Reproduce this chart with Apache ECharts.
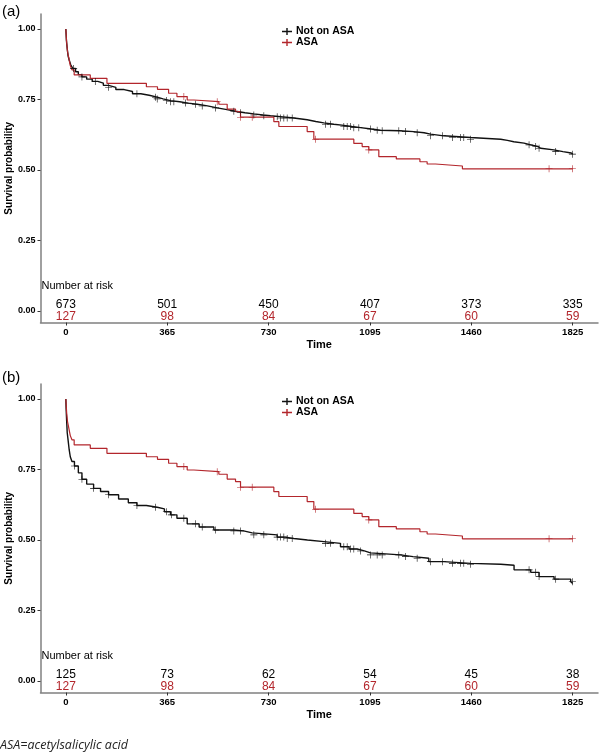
<!DOCTYPE html>
<html><head><meta charset="utf-8">
<script src="https://cdn.jsdelivr.net/npm/echarts@6/dist/echarts.min.js"></script>
<style>html,body{margin:0;padding:0;background:#fff}#c{width:600px;height:756px}</style>
</head><body><div id="c"></div>
<script>
// ---- data ----
const timeTicks = [0, 365, 730, 1095, 1460, 1825];
const survTicks = [0, 0.25, 0.5, 0.75, 1];
const groupNames = ['Not on ASA', 'ASA'];

// Panel (a) Not on ASA
const timeNotA = [0,2,5,8,12,18,25,35,45,58,75,95,115,135,154,180,210,240,270,300,329,350,377,410,440,473,510,545,580,611,645,677,710,737,773,821,869,900,929,965,1001,1030,1061,1100,1133,1200,1253,1290,1313,1361,1457,1566,1590,1613,1650,1674,1700,1710,1757,1790,1820,1825];
const survNotA = [1.000,0.960,0.930,0.905,0.890,0.872,0.860,0.848,0.838,0.830,0.822,0.814,0.808,0.800,0.793,0.785,0.778,0.770,0.765,0.758,0.752,0.746,0.742,0.737,0.733,0.727,0.720,0.714,0.708,0.703,0.699,0.695,0.692,0.689,0.684,0.678,0.672,0.667,0.662,0.658,0.654,0.650,0.645,0.641,0.639,0.636,0.632,0.627,0.621,0.615,0.609,0.605,0.600,0.595,0.589,0.583,0.577,0.571,0.565,0.560,0.556,0.556];
const censorNotA = [28,58,106,154,256,323,329,362,377,389,431,467,491,539,605,629,677,713,761,773,785,797,815,935,953,1001,1013,1025,1037,1055,1097,1121,1139,1199,1223,1265,1313,1356,1392,1421,1433,1457,1668,1692,1704,1764,1824];

// Panel (b) Not on ASA
const timeNotB = [0,1,3,5,8,12,16,22,31,45,58,75,100,125,154,190,225,256,290,329,355,377,400,437,480,533,605,640,671,761,790,821,870,929,989,1020,1049,1075,1097,1205,1250,1307,1361,1457,1566,1614,1674,1704,1758,1818,1825];
const survNotB = [1.000,0.965,0.920,0.880,0.855,0.820,0.795,0.778,0.762,0.738,0.715,0.698,0.683,0.672,0.660,0.645,0.632,0.622,0.616,0.610,0.600,0.589,0.577,0.557,0.546,0.535,0.532,0.525,0.518,0.510,0.505,0.500,0.494,0.488,0.476,0.468,0.461,0.454,0.447,0.441,0.435,0.423,0.417,0.414,0.410,0.394,0.385,0.370,0.361,0.352,0.346];
const censorNotB = [31,58,100,154,256,323,362,380,425,467,491,539,605,629,677,713,761,773,785,797,815,935,953,1001,1013,1025,1037,1061,1097,1121,1139,1199,1223,1265,1313,1356,1392,1421,1433,1457,1668,1692,1704,1764,1824];

// ASA (same in both panels)
const timeAsa = [0,3,6,10,16,22,30,88,148,290,330,370,400,437,461,551,581,611,629,749,767,869,893,1037,1067,1091,1127,1190,1275,1301,1331,1428,1825];
const survAsa = [1.000,0.950,0.920,0.900,0.870,0.855,0.837,0.825,0.807,0.795,0.786,0.772,0.760,0.748,0.742,0.733,0.716,0.707,0.687,0.671,0.654,0.636,0.609,0.594,0.583,0.571,0.547,0.539,0.529,0.521,0.514,0.504,0.504];
const censorAsa = [425,545,629,671,899,1091,1740,1824];

// Number at risk
const riskNotA = [673, 501, 450, 407, 373, 335];
const riskNotB = [125, 73, 62, 54, 45, 38];
const riskAsa = [127, 98, 84, 67, 60, 59];

// ---- styles ----
const BLACK = '#111111';
const RED = '#b3262c';
const AXIS = '#808080';
const FONT = 'Liberation Sans, Arial, sans-serif';
const plusPath = 'path://M0,3.2H7V3.8H0Z M3.2,0H3.8V7H3.2Z';
const legendIcon = 'path://M0,4.3H10V5.7H0Z M4.3,1.5H5.7V8.5H4.3Z';

function zip(t, s) { return t.map((v, i) => [v, s[i]]); }
function sAt(t, s, x) { let v = s[0]; for (let i = 0; i < t.length; i++) { if (t[i] <= x) v = s[i]; else break; } return v; }
function censorPts(t, s, c) { return c.map(x => [x, sAt(t, s, x)]); }

const xMin = -91.25, xMax = 1916.25;
const yMin = -0.041, yMax = 1.053;
const grids = [
  {left: 40.5, right: 2, top: 14, height: 308.5, outerBoundsMode: 'none', containLabel: false},
  {left: 40.5, right: 2, top: 384, height: 308.5, outerBoundsMode: 'none', containLabel: false}
];

function xAxis(i) {
  return {
    gridIndex: i, type: 'value', min: xMin, max: xMax,
    name: 'Time', nameLocation: 'middle', nameGap: 17, nameMoveOverlap: false,
    nameTextStyle: {fontFamily: FONT, fontWeight: 'bold', fontSize: 11, color: '#000'},
    axisLine: {onZero: false, lineStyle: {color: AXIS, width: 1.5}},
    axisTick: {show: true, length: 3, lineStyle: {color: '#333'}, customValues: timeTicks},
    axisLabel: {customValues: timeTicks, formatter: v => String(v), fontFamily: FONT, fontWeight: 'bold', fontSize: 9.5, color: '#000', margin: 5},
    splitLine: {show: false}
  };
}
function yAxis(i) {
  return {
    gridIndex: i, type: 'value', min: yMin, max: yMax,
    name: 'Survival probability', nameLocation: 'middle', nameGap: 26, nameMoveOverlap: false,
    nameTextStyle: {fontFamily: FONT, fontWeight: 'bold', fontSize: 10, color: '#000'},
    axisLine: {show: true, onZero: false, lineStyle: {color: AXIS, width: 1.5}},
    axisTick: {show: true, length: 3, lineStyle: {color: '#333'}, customValues: survTicks},
    axisLabel: {customValues: survTicks, fontFamily: FONT, fontWeight: 'bold', fontSize: 9, color: '#000', margin: 5,
      formatter: v => v.toFixed(2)},
    splitLine: {show: false}
  };
}

function curve(i, name, t, s, color, w) {
  return {name: name, type: 'line', step: 'end', xAxisIndex: i, yAxisIndex: i, data: zip(t, s),
    showSymbol: false, lineStyle: {color: color, width: w}, itemStyle: {color: color}, silent: true, z: 3};
}
function censors(i, t, s, c, color) {
  return {name: 'c' + i + color, type: 'scatter', xAxisIndex: i, yAxisIndex: i, data: censorPts(t, s, c),
    symbol: plusPath, symbolSize: 7, itemStyle: {color: color, opacity: 1}, silent: true, z: 4};
}
function riskRow(i, values, yPos, color) {
  return {name: 'r' + i + color, type: 'scatter', xAxisIndex: i, yAxisIndex: i,
    data: values.map((v, k) => [timeTicks[k], yPos, v]), symbolSize: 0, silent: true,
    itemStyle: {opacity: 1, color: color},
    label: {show: true, position: 'inside', formatter: p => String(p.value[2]), fontFamily: FONT, fontSize: 12,
      color: color, opacity: 1, textBorderWidth: 0}};
}
function riskTitle(i) {
  return {name: 'rt' + i, type: 'scatter', xAxisIndex: i, yAxisIndex: i, data: [[xMin, 0.088]], symbolSize: 0, silent: true,
    itemStyle: {opacity: 1, color: '#000'},
    label: {show: true, position: 'right', distance: 1, formatter: 'Number at risk', fontFamily: FONT, fontSize: 11,
      color: '#000', opacity: 1, textBorderWidth: 0}};
}
function legend(top) {
  return {orient: 'vertical', left: 277, top: top, itemWidth: 10, itemHeight: 9, itemGap: 0, selectedMode: false,
    textStyle: {fontFamily: FONT, fontWeight: 'bold', fontSize: 10.5, color: '#000', padding: [0, 0, 0, -1]},
    data: [{name: groupNames[0], icon: legendIcon, itemStyle: {color: BLACK}},
           {name: groupNames[1], icon: legendIcon, itemStyle: {color: RED}}]};
}

const option = {
  animation: false,
  backgroundColor: '#fff',
  grid: grids,
  xAxis: [xAxis(0), xAxis(1)],
  yAxis: [yAxis(0), yAxis(1)],
  legend: [legend(21), legend(391)],
  series: [
    curve(0, groupNames[0], timeNotA, survNotA, BLACK, 1.4),
    curve(0, groupNames[1], timeAsa, survAsa, RED, 1.2),
    censors(0, timeNotA, survNotA, censorNotA, BLACK),
    censors(0, timeAsa, survAsa, censorAsa, RED),
    riskTitle(0),
    riskRow(0, riskNotA, 0.022, '#000'),
    riskRow(0, riskAsa, -0.019, RED),
    curve(1, groupNames[0], timeNotB, survNotB, BLACK, 1.4),
    curve(1, groupNames[1], timeAsa, survAsa, RED, 1.2),
    censors(1, timeNotB, survNotB, censorNotB, BLACK),
    censors(1, timeAsa, survAsa, censorAsa, RED),
    riskTitle(1),
    riskRow(1, riskNotB, 0.022, '#000'),
    riskRow(1, riskAsa, -0.019, RED)
  ],
  graphic: [
    {type: 'text', left: 2, top: 4, style: {text: '(a)', fontFamily: FONT, fontSize: 15, fill: '#000'}},
    {type: 'text', left: 2, top: 370, style: {text: '(b)', fontFamily: FONT, fontSize: 15, fill: '#000'}},
    {type: 'text', left: 0, top: 739, style: {text: 'ASA=acetylsalicylic acid', fontFamily: 'Open Sans, sans-serif', fontStyle: 'italic', fontSize: 12.5, fill: '#222'}}
  ]
};
const chart = echarts.init(document.getElementById('c'), null, {renderer: 'canvas'});
chart.setOption(option);
</script></body></html>
